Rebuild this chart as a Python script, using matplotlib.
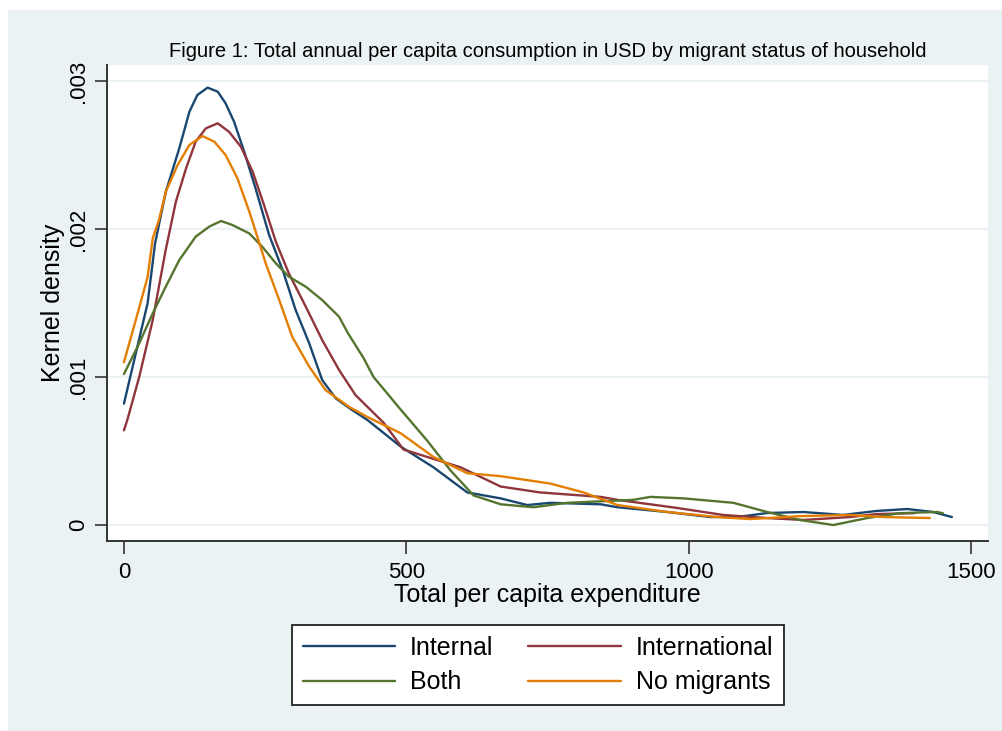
import matplotlib
matplotlib.use("Agg")
import matplotlib.pyplot as plt
from matplotlib.patches import Rectangle

# Kernel density estimates of per capita expenditure, by household migrant status
internal_x = [0, 21, 42, 55, 74, 98, 116, 130, 148, 166, 180, 195, 213, 233, 257, 281, 304,
              328, 351, 375, 404, 431, 490, 548, 608, 667, 714, 755, 844, 874, 962, 1038,
              1086, 1139, 1203, 1273, 1333, 1387, 1433, 1466]
internal_y = [0.00082, 0.00116, 0.0015, 0.0019, 0.00225, 0.002545, 0.002793, 0.002905,
              0.002955, 0.002928, 0.002849, 0.002725, 0.002522, 0.002275, 0.00196, 0.001723,
              0.001453, 0.001228, 0.00098, 0.000856, 0.000777, 0.00071, 0.00053, 0.00039,
              0.00022, 0.00018, 0.000135, 0.00015, 0.00014, 0.00012, 0.000088, 0.000054,
              0.000054, 0.000081, 0.000088, 0.000068, 0.000095, 0.000108, 0.000088, 0.000054]

intl_x = [0, 6, 27, 51, 74, 92, 110, 127, 145, 166, 186, 207, 228, 248, 269, 292, 322, 351,
          381, 410, 460, 495, 537, 596, 667, 737, 844, 874, 980, 1061, 1139, 1203, 1286,
          1333, 1400]
intl_y = [0.00064, 0.00071, 0.001, 0.001385, 0.00186, 0.002185, 0.00241, 0.00259, 0.00268,
          0.002714, 0.002657, 0.002556, 0.002387, 0.002162, 0.001914, 0.0017, 0.001475,
          0.00125, 0.001047, 0.000878, 0.00069, 0.00051, 0.00046, 0.00039, 0.00026, 0.00022,
          0.00019, 0.00017, 0.000115, 0.000068, 0.000047, 0.000034, 0.000054, 0.000074,
          0.00008]

both_x = [0, 27, 51, 74, 98, 127, 151, 172, 192, 222, 245, 269, 292, 322, 351, 381, 396,
          424, 442, 490, 537, 578, 619, 667, 725, 785, 902, 932, 991, 1079, 1139, 1197,
          1256, 1316, 1374, 1440, 1450]
both_y = [0.00102, 0.001227, 0.00143, 0.00161, 0.00179, 0.001948, 0.002016, 0.002054,
          0.002027, 0.00197, 0.00188, 0.001768, 0.001678, 0.00161, 0.00152, 0.001407,
          0.0013, 0.00113, 0.001, 0.00078, 0.00057, 0.00037, 0.0002, 0.00014, 0.00012,
          0.00015, 0.00017, 0.00019, 0.00018, 0.00015, 0.000088, 0.000034, 0.0, 0.000047,
          0.00008, 0.000088, 0.00008]

nomig_x = [0, 21, 42, 51, 62, 74, 95, 116, 139, 160, 180, 201, 222, 239, 251, 275, 298,
           328, 357, 398, 431, 490, 548, 608, 667, 755, 814, 874, 962, 1050, 1109, 1197,
           1286, 1344, 1427]
nomig_y = [0.0011, 0.001385, 0.001678, 0.001937, 0.00206, 0.00225, 0.002432, 0.002568,
           0.002628, 0.00259, 0.0025, 0.002342, 0.002117, 0.001914, 0.001768, 0.00152,
           0.001272, 0.00107, 0.000912, 0.0008, 0.00073, 0.00062, 0.00046, 0.00035,
           0.00033, 0.00028, 0.00022, 0.000135, 0.000088, 0.000054, 0.00004, 0.00006,
           0.000068, 0.000054, 0.000047]

series = [
    ("Internal", internal_x, internal_y, "#1a476f"),
    ("International", intl_x, intl_y, "#90353b"),
    ("Both", both_x, both_y, "#55752f"),
    ("No migrants", nomig_x, nomig_y, "#e37e00"),
]

x_ticks = [0, 500, 1000, 1500]
y_ticks = [0, 0.001, 0.002, 0.003]
y_tick_labels = ["0", ".001", ".002", ".003"]

bg = "#eaf2f3"
plt.rcParams["font.family"] = ["Liberation Sans", "DejaVu Sans"]

fig = plt.figure(figsize=(10.03, 7.31), dpi=100, facecolor="white")
fig.patches.append(Rectangle((8 / 1003, 0), 1 - 8 / 1003, 1 - 10 / 731,
                             transform=fig.transFigure, facecolor=bg,
                             edgecolor="none", zorder=-10))

ax = fig.add_axes([107 / 1003, 1 - 541 / 731, (988 - 107) / 1003, (541 - 65) / 731])
ax.set_facecolor("white")

lines = {}
for name, xs, ys, color in series:
    lines[name], = ax.plot(xs, ys, color=color, lw=1.7, label=name,
                           solid_joinstyle="round", solid_capstyle="round")

ax.set_xlim(-30, 1530)
ax.set_ylim(-0.000108, 0.003108)

ax.set_xticks(x_ticks)
ax.set_xticklabels([str(t) for t in x_ticks])
ax.set_yticks(y_ticks)
ax.set_yticklabels(y_tick_labels, rotation=90, va="center")
ax.tick_params(axis="both", labelsize=16, length=9, width=1.2, color="#333333",
               direction="out")
ax.tick_params(axis="x", pad=6)
ax.tick_params(axis="y", pad=4)

ax.grid(axis="y", color=bg, lw=1.5)
ax.set_axisbelow(True)

for side in ["top", "right"]:
    ax.spines[side].set_visible(False)
for side in ["left", "bottom"]:
    ax.spines[side].set_color("#333333")
    ax.spines[side].set_linewidth(1.4)

ax.set_xlabel("Total per capita expenditure", fontsize=18, labelpad=0)
ax.set_ylabel("Kernel density", fontsize=18, labelpad=2)
ax.set_title("Figure 1: Total annual per capita consumption in USD by migrant status of household",
             fontsize=14.5, pad=6)

# legend is filled column by column, so order the entries to read row by row
order = ["Internal", "Both", "International", "No migrants"]
leg = fig.legend([lines[n] for n in order], order, loc="center",
                 bbox_to_anchor=(538 / 1003, 1 - 665 / 731), ncol=2,
                 fontsize=18, frameon=True, fancybox=False, handlelength=3.7,
                 columnspacing=1.4, handletextpad=0.6, labelspacing=0.42,
                 borderpad=0.42, borderaxespad=0)
leg.get_frame().set_edgecolor("#222222")
leg.get_frame().set_linewidth(1.3)
leg.get_frame().set_facecolor("white")
leg.get_frame().set_alpha(1)

fig.savefig("out.png", dpi=100, facecolor=fig.get_facecolor())
